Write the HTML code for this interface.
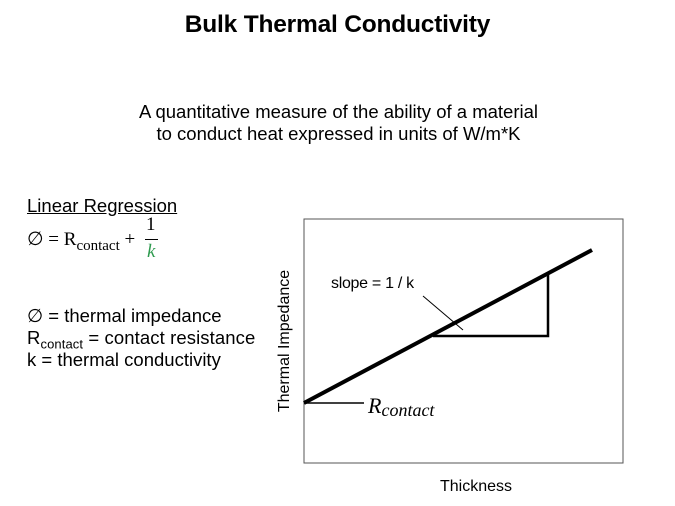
<!DOCTYPE html>
<html><head><style>
body{margin:0;width:675px;height:506px;background:#fff;font-family:"Liberation Sans",sans-serif;position:relative;overflow:hidden}
.t{position:absolute;white-space:nowrap;color:#000}
sub{line-height:0}
</style></head><body>
<div class="t" style="left:0;width:675px;text-align:center;top:11px;font-size:24.5px;font-weight:bold;letter-spacing:-0.2px">Bulk Thermal Conductivity</div>
<div class="t" style="left:1px;width:675px;text-align:center;top:101px;font-size:18.5px;line-height:22px">A quantitative measure of the ability of a material<br>to conduct heat expressed in units of W/m*K</div>
<div class="t" style="left:27px;top:195px;font-size:18.5px;text-decoration:underline">Linear Regression</div>
<div class="t" style="left:27px;top:228px;font-size:19px;font-family:'Liberation Serif',serif">∅ = R<sub style="font-size:15px">contact</sub> +</div>
<div class="t" style="left:146px;top:214px;font-size:19px;font-family:'Liberation Serif',serif">1</div>
<div style="position:absolute;left:145px;top:239px;width:13px;height:1px;background:#000"></div>
<div class="t" style="left:147px;top:241px;font-size:19px;font-style:italic;color:#2e9a4f;font-family:'Liberation Serif',serif">k</div>
<div class="t" style="left:27px;top:305px;font-size:18.5px">∅ = thermal impedance</div>
<div class="t" style="left:27px;top:327px;font-size:18.5px;letter-spacing:0.1px">R<sub style="font-size:13px">contact</sub> = contact resistance</div>
<div class="t" style="left:27px;top:349px;font-size:18.5px">k = thermal conductivity</div>
<svg width="675" height="506" style="position:absolute;left:0;top:0">
<rect x="304" y="219" width="319" height="244" fill="none" stroke="#555" stroke-width="1"/>
<line x1="304" y1="403" x2="592" y2="250" stroke="#000" stroke-width="4"/>
<polyline points="433,336 548,336 548,272" fill="none" stroke="#000" stroke-width="2.5"/>
<line x1="423" y1="296" x2="463" y2="330" stroke="#000" stroke-width="1"/>
<line x1="304" y1="403" x2="364" y2="403" stroke="#000" stroke-width="1.5"/>
<text x="331" y="288" font-size="16" font-family="Liberation Sans" letter-spacing="-0.3">slope = 1 / k</text>
<text x="368" y="413" font-size="22" font-style="italic" font-family="Liberation Serif">R<tspan font-size="18" dy="3">contact</tspan></text>
<text x="476" y="491" font-size="16" text-anchor="middle" font-family="Liberation Sans">Thickness</text>
<text transform="translate(289,341) rotate(-90)" font-size="16" text-anchor="middle" font-family="Liberation Sans">Thermal Impedance</text>
</svg>
</body></html>
